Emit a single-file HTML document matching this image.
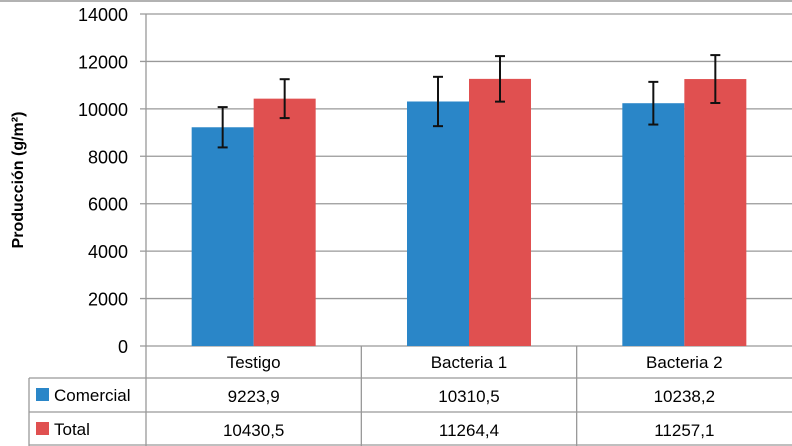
<!DOCTYPE html>
<html><head><meta charset="utf-8"><style>
body{margin:0;background:#fff;}
svg{display:block;font-family:"Liberation Sans",sans-serif;}
</style></head><body>
<svg id="chart" width="792" height="446" viewBox="0 0 792 446"></svg>
<script>
const categories=["Testigo","Bacteria 1","Bacteria 2"];
const comercial=[9223.9,10310.5,10238.2];
const total=[10430.5,11264.4,11257.1];
const comercialErr=[850,1040,900];
const totalErr=[820,960,1010];
const comercialLabels=["9223,9","10310,5","10238,2"];
const totalLabels=["10430,5","11264,4","11257,1"];
const yTicks=[0,2000,4000,6000,8000,10000,12000,14000];
const NS="http://www.w3.org/2000/svg";
const svg=document.getElementById('chart');
const X0=146,X1=792,Y0=346,Y1=14,YMAX=14000;
const cw=(X1-X0)/categories.length;
function y(v){return Y0-(v/YMAX)*(Y0-Y1);}
function xc(i){return X0+cw*(i+0.5);}
function mk(tag,attrs,name,txt){const e=document.createElementNS(NS,tag);for(const k in attrs)e.setAttribute(k,attrs[k]);


if(txt!==undefined)e.textContent=txt;svg.appendChild(e);return e;}
mk('line',{x1:0,y1:1,x2:792,y2:1,stroke:'#999','stroke-width':1.5},'top-border');
yTicks.forEach(t=>{
 mk('line',{x1:140,y1:y(t),x2:X1,y2:y(t),stroke:'#999','stroke-width':1.3},'gridline');
 mk('text',{x:128,y:y(t)+7,'text-anchor':'end','font-size':18,fill:'#000'},'y-tick-label',String(t));
});
mk('line',{x1:X0,y1:Y1,x2:X0,y2:446,stroke:'#999','stroke-width':1.3},'y-axis');
mk('text',{x:0,y:0,transform:'translate(23,180) rotate(-90)','text-anchor':'middle','font-size':16,'font-weight':'bold',fill:'#000'},'y-axis-title','Producción (g/m²)');
categories.forEach((c,i)=>{
 const cx=xc(i),bw=62;
 mk('rect',{x:cx-bw,y:y(comercial[i]),width:bw,height:Y0-y(comercial[i]),fill:'#2a86c8'},'bar-comercial');
 mk('rect',{x:cx,y:y(total[i]),width:bw,height:Y0-y(total[i]),fill:'#e05050'},'bar-total');
 [[cx-bw/2,comercial[i],comercialErr[i]],[cx+bw/2,total[i],totalErr[i]]].forEach(([ex,v,e])=>{
  mk('line',{x1:ex,y1:y(v+e),x2:ex,y2:y(v-e),stroke:'#111','stroke-width':2},'error-bar');
  mk('line',{x1:ex-5,y1:y(v+e),x2:ex+5,y2:y(v+e),stroke:'#111','stroke-width':2},'error-cap');
  mk('line',{x1:ex-5,y1:y(v-e),x2:ex+5,y2:y(v-e),stroke:'#111','stroke-width':2},'error-cap');
 });
 mk('text',{x:cx,y:368,'text-anchor':'middle','font-size':17},'category-label',c);
 mk('text',{x:cx,y:402,'text-anchor':'middle','font-size':17},'comercial-value',comercialLabels[i]);
 mk('text',{x:cx,y:436,'text-anchor':'middle','font-size':17},'total-value',totalLabels[i]);
});
for(let i=1;i<=categories.length;i++){const xx=X0+cw*i;if(xx<791)mk('line',{x1:xx,y1:Y0,x2:xx,y2:446,stroke:'#999','stroke-width':1.3},'table-column-line');}
[378,412,445].forEach(r=>mk('line',{x1:29,y1:r,x2:792,y2:r,stroke:'#999','stroke-width':1.3},'table-row-line'));
mk('line',{x1:29,y1:378,x2:29,y2:446,stroke:'#999','stroke-width':1.3},'table-left-border');
mk('rect',{x:36,y:388,width:13,height:13,fill:'#2a86c8'},'legend-swatch-comercial');
mk('text',{x:54,y:401,'font-size':17},'legend-comercial','Comercial');
mk('rect',{x:36,y:422,width:13,height:13,fill:'#e05050'},'legend-swatch-total');
mk('text',{x:54,y:435,'font-size':17},'legend-total','Total');
</script>
</body></html>
